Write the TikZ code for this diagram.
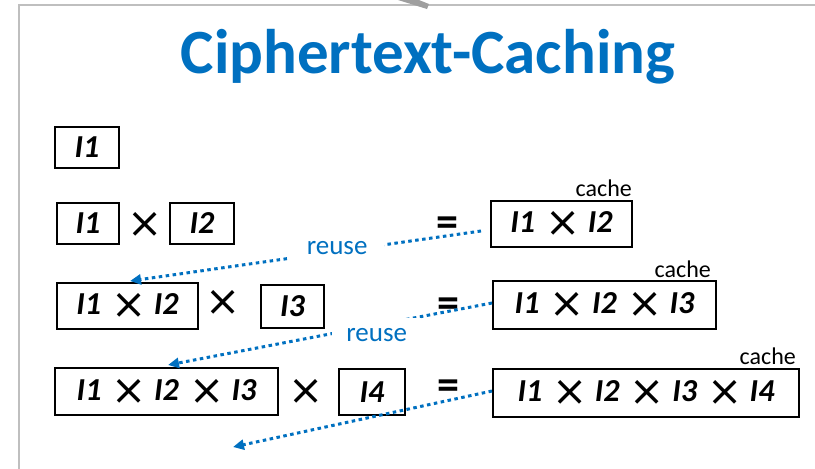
\documentclass[tikz,border=0pt]{standalone}
\usepackage{fontspec}
\setmainfont{Carlito}
\newfontfamily\symfont{DejaVu Sans}
\usetikzlibrary{arrows.meta}
\definecolor{slideblue}{RGB}{0,112,192}
\definecolor{framegray}{RGB}{191,191,191}
\newcommand{\tms}{\hspace{3pt}\raisebox{-4pt}{\symfont\mdseries\upshape\fontsize{42}{42}\selectfont ×}}
\tikzset{
  ttl/.style   = {inner sep=0pt, anchor=base, text=slideblue,
                  font=\fontsize{63}{63}\selectfont\bfseries},
  term/.style  = {draw=black, line width=2pt, inner sep=0pt, minimum height=41pt,
                  font=\fontsize{32}{32}\selectfont\bfseries\itshape},
  prod/.style  = {term, minimum height=47pt},
  op/.style    = {inner sep=0pt, font=\fontsize{44}{44}\selectfont\bfseries},
  tag/.style   = {inner sep=0pt, anchor=base east, font=\fontsize{24}{24}\selectfont},
  % dotted blue arrows, label boxes hide the line behind them
  reuse/.style = {draw=slideblue, line width=3pt, dash pattern=on 3.5pt off 3.5pt,
                  -{Triangle[length=11pt,width=10pt]}},
  lbl/.style   = {fill=white, text=slideblue, font=\fontsize{27}{27}\selectfont,
                  inner xsep=14pt, inner ysep=10pt},
}

\begin{document}
\begin{tikzpicture}[x=1pt, y=-1pt]
  \useasboundingbox (0,0) rectangle (815,469);

  \draw[framegray, line width=2.5pt] (815,5) -- (19,5) -- (19,469);
  \fill[gray!75] (398,0) -- (419,0) -- (429,4) -- (427,9) -- cycle;

  \node[ttl] (title) at (428,73) {Ciphertext-Caching};

  \node[term, minimum width=64pt] (a1) at (87,147.5) {I1};

  \node[term, minimum width=62pt] (b1) at (88,223.5) {I1};
  \node[op] (bx) at (144,225) {\tms};
  \node[term, minimum width=64pt] (b2) at (202,223.5) {I2};
  \node[op] (beq) at (447,227) {=};
  \node[prod, minimum width=141pt, minimum height=46pt] (r2) at (561.5,224) {I1 \tms{} I2};
  \node[tag] (c2tag) at ([xshift=-1pt,yshift=4pt]r2.north east) {cache};

  \node[prod, minimum width=141pt, minimum height=46pt] (c1) at (127.5,306) {I1 \tms{} I2};
  \node[op] (cx) at (222,303) {\tms};
  \node[term, minimum width=63pt, minimum height=43pt] (c2) at (292.5,306.5) {I3};
  \node[op] (ceq) at (448,308) {=};
  \node[prod, minimum width=223pt, minimum height=48pt] (r3) at (604.5,305) {I1 \tms{} I2 \tms{} I3};
  \node[tag] (c3tag) at ([xshift=-6pt,yshift=3pt]r3.north east) {cache};

  \node[prod, minimum width=223pt] (d1) at (166.5,391.5) {I1 \tms{} I2 \tms{} I3};
  \node[op] (dx) at (305,392) {\tms};
  \node[term, minimum width=66pt, minimum height=46pt] (d2) at (372,392) {I4};
  \node[op] (deq) at (448,390) {=};
  \node[prod, minimum width=306pt, minimum height=48pt] (r4) at (646,393) {I1 \tms{} I2 \tms{} I3 \tms{} I4};
  \node[tag] (c4tag) at ([xshift=-4pt,yshift=4pt]r4.north east) {cache};

  \coordinate (t1) at (130,281);
  \coordinate (t2) at (168,365);
  \coordinate (t3) at (233,447);

  \draw[reuse] ([shift={(-9pt,-7pt)}]r2.west) -- node[lbl, pos=0.41, yshift=3pt, inner xsep=17pt] {reuse} (t1);
  \draw[reuse] ([yshift=2pt]r3.west) -- node[lbl, pos=0.356, yshift=-10pt] {reuse} (t2);
  \draw[reuse] ([yshift=2pt]r4.west) -- (t3);
\end{tikzpicture}
\end{document}
